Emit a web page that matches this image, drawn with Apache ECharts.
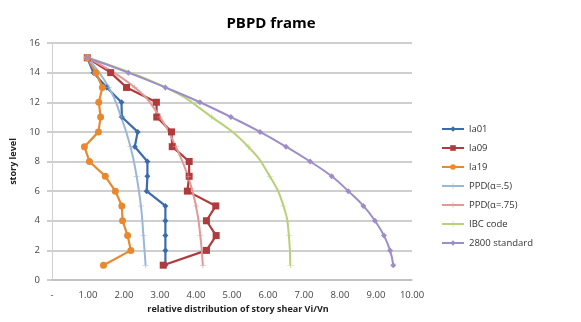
<!DOCTYPE html>
<html>
<head>
<meta charset="utf-8">
<script src="https://cdn.jsdelivr.net/npm/echarts@6/dist/echarts.min.js"></script>
<style>
  html, body { margin: 0; padding: 0; background: #fff; }
  #chart { width: 581px; height: 322px; }
</style>
</head>
<body>
<div id="chart"></div>
<script>
// story levels (y values)
const levels = [1, 2, 3, 4, 5, 6, 7, 8, 9, 10, 11, 12, 13, 14, 15];
const oddLevels = [1, 3, 5, 7, 9, 11, 13, 15];

// ground motion results, one value per story
const la01 = [3.15, 3.15, 3.15, 3.15, 3.15, 2.63, 2.65, 2.65, 2.30, 2.38, 1.94, 1.93, 1.52, 1.15, 0.98];
const la09 = [3.09, 4.29, 4.56, 4.29, 4.55, 3.76, 3.81, 3.81, 3.34, 3.32, 2.91, 2.90, 2.07, 1.63, 0.98];
const la19 = [1.43, 2.19, 2.10, 1.96, 1.94, 1.76, 1.48, 1.04, 0.90, 1.29, 1.35, 1.30, 1.40, 1.22, 0.98];

// design distributions, read at odd stories
const ppd50 = [2.60, 2.54, 2.47, 2.35, 2.18, 1.92, 1.58, 0.98];
const ppd75 = [4.19, 4.12, 4.00, 3.78, 3.44, 3.00, 2.30, 0.98];
const ibc = [6.62, 6.58, 6.43, 6.05, 5.45, 4.44, 3.15, 0.98];

// standard 2800, every story
const std2800 = [9.48, 9.39, 9.22, 8.97, 8.65, 8.23, 7.77, 7.17, 6.50, 5.78, 4.97, 4.11, 3.15, 2.12, 0.98];

const pairs = (xs, ys) => xs.map((v, i) => [v, ys[i]]);
const crossMark = "path://M0,4.5H10V5.5H0ZM4.5,0H5.5V10H4.5Z";

const chart = echarts.init(document.getElementById("chart"));

const line = (name, data, color, opts) => Object.assign({
  name: name,
  type: "line",
  data: data,
  color: color,
  lineStyle: { color: color, width: 2.2 },
  itemStyle: { color: color },
}, opts);

chart.setOption({
  animation: false,
  title: {
    text: "PBPD frame",
    left: 266,
    top: 11,
    textAlign: "center",
    textStyle: { fontFamily: "Open Sans", fontWeight: "bold", fontSize: 15, color: "#000" },
  },
  legend: {
    orient: "vertical",
    left: 436,
    top: 119,
    itemWidth: 22,
    itemHeight: 7,
    itemGap: 9,
    textStyle: { fontFamily: "Open Sans", fontSize: 9.5, color: "#333" },
    data: ["la01", "la09", "la19", "PPD(α=.5)", "PPD(α=.75)", "IBC code", "2800 standard"],
  },
  grid: { left: 52, right: 169, top: 43, bottom: 42 },
  xAxis: {
    type: "value",
    min: 0,
    max: 10,
    interval: 1,
    name: "relative distribution of story shear Vi/Vn",
    nameLocation: "middle",
    nameGap: 21,
    nameTextStyle: { fontFamily: "Open Sans", fontWeight: "bold", fontSize: 9, color: "#222", padding: [0, 0, 0, 12] },
    axisLine: { lineStyle: { color: "#BFBFBF", width: 1.5 } },
    axisTick: { show: false },
    splitLine: { show: false },
    axisLabel: {
      fontFamily: "Open Sans",
      fontSize: 9.5,
      color: "#444",
      margin: 10,
      formatter: (v) => (v === 0 ? "-" : v.toFixed(2)),
    },
  },
  yAxis: {
    type: "value",
    min: 0,
    max: 16,
    interval: 2,
    name: "story level",
    nameLocation: "middle",
    nameGap: 27,
    nameTextStyle: { fontFamily: "Open Sans", fontWeight: "bold", fontSize: 9, color: "#222" },
    axisLine: { show: true, lineStyle: { color: "#D0D0D0", width: 1 } },
    axisTick: { show: true, length: 5, lineStyle: { color: "#BFBFBF", width: 1.5 } },
    splitLine: { lineStyle: { color: "#BFBFBF", width: 1.5 } },
    axisLabel: { fontFamily: "Open Sans", fontSize: 9.5, color: "#444", margin: 12 },
  },
  series: [
    line("la01", pairs(la01, levels), "#3A6BAE", { symbol: "diamond", symbolSize: 6 }),
    line("la09", pairs(la09, levels), "#B03A3C", { symbol: "rect", symbolSize: 7 }),
    line("la19", pairs(la19, levels), "#E8892F", { symbol: "circle", symbolSize: 7 }),
    line("PPD(α=.5)", pairs(ppd50, oddLevels), "#9CB6DA", { smooth: true, symbol: crossMark, symbolSize: 6, lineStyle: { color: "#9CB6DA", width: 2 } }),
    line("PPD(α=.75)", pairs(ppd75, oddLevels), "#E29998", { smooth: true, symbol: crossMark, symbolSize: 6, lineStyle: { color: "#E29998", width: 2 } }),
    line("IBC code", pairs(ibc, oddLevels), "#B8D179", { smooth: true, symbol: crossMark, symbolSize: 6, lineStyle: { color: "#B8D179", width: 2 } }),
    line("2800 standard", pairs(std2800, levels), "#9D8EC8", { smooth: true, symbol: "diamond", symbolSize: 6, lineStyle: { color: "#9D8EC8", width: 2 } }),
  ],
});
</script>
</body>
</html>
